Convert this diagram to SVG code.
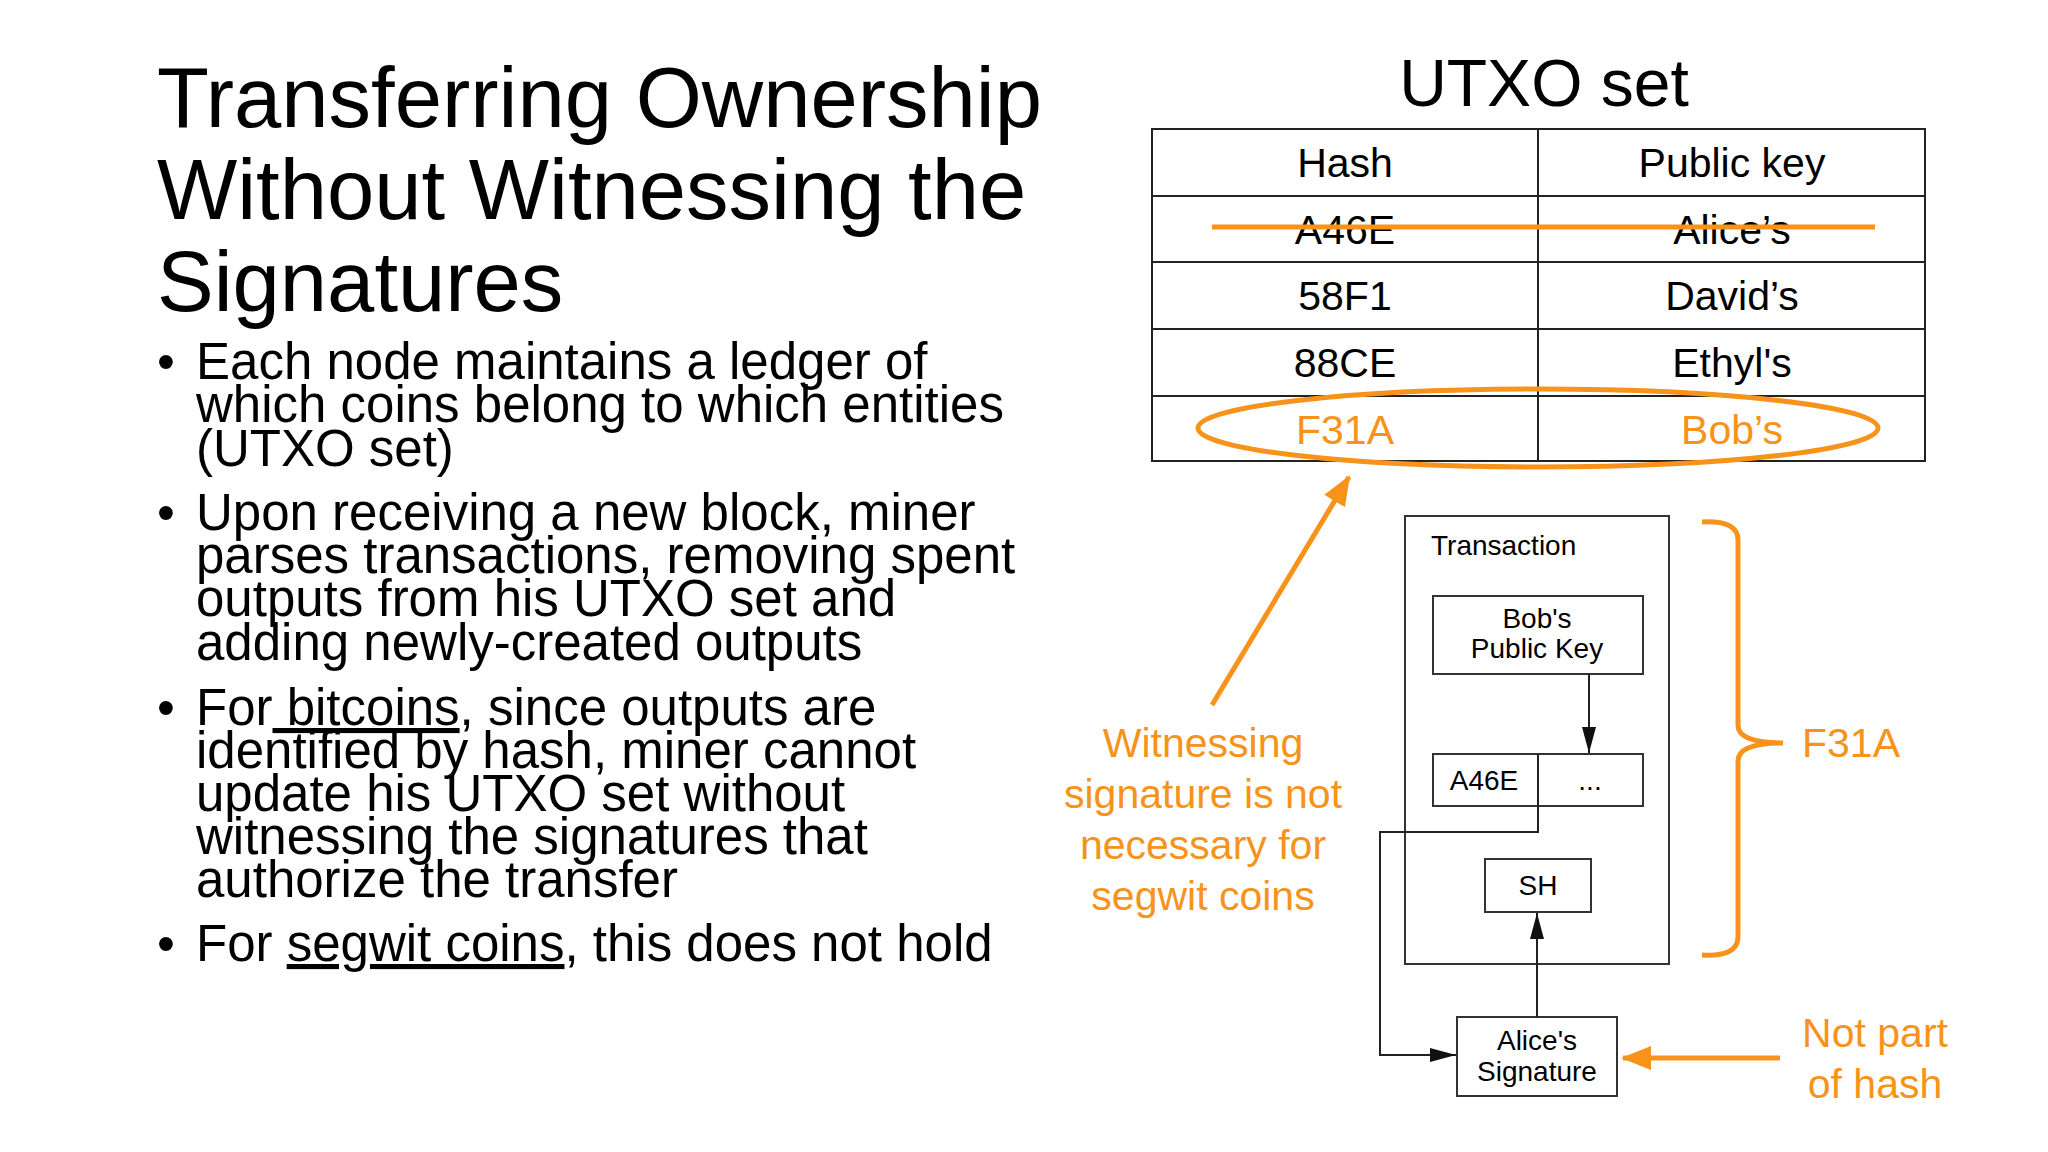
<svg xmlns="http://www.w3.org/2000/svg" width="2048" height="1152" viewBox="0 0 2048 1152">
<defs>
<style>
text{font-family:"Liberation Sans",Arial,sans-serif;fill:#000}
.t{font-size:85px}
.b{font-size:51px}
.c{font-size:41px;text-anchor:middle}
.o{fill:#F7931A}
.d{font-size:28px;text-anchor:middle}
.box{fill:none;stroke:#333;stroke-width:2}
.ln{fill:none;stroke:#222;stroke-width:2}
.or{fill:none;stroke:#F7931A;stroke-width:5}
</style>
<marker id="ak" markerWidth="26" markerHeight="14" refX="26" refY="7" orient="auto" markerUnits="userSpaceOnUse" viewBox="0 0 26 14"><path d="M0,0 L26,7 L0,14 z" fill="#111"/></marker>
<marker id="ao" markerWidth="30" markerHeight="30" refX="28" refY="15" orient="auto" markerUnits="userSpaceOnUse" viewBox="0 0 30 30"><path d="M0,3 L30,15 L0,27 z" fill="#F7931A"/></marker>
</defs>
<rect width="2048" height="1152" fill="#fff"/>
<g id="title">
<text class="t" x="157" y="127">Transferring Ownership</text>
<text class="t" x="157" y="219">Without Witnessing the</text>
<text class="t" x="157" y="311">Signatures</text>
</g>
<g id="bullets" class="b">
<text class="b" x="157" y="379">•</text>
<text class="b" x="196" y="379">Each node maintains a ledger of</text>
<text class="b" x="196" y="422">which coins belong to which entities</text>
<text class="b" x="196" y="466">(UTXO set)</text>
<text class="b" x="157" y="530">•</text>
<text class="b" x="196" y="530">Upon receiving a new block, miner</text>
<text class="b" x="196" y="573">parses transactions, removing spent</text>
<text class="b" x="196" y="616">outputs from his UTXO set and</text>
<text class="b" x="196" y="660">adding newly-created outputs</text>
<text class="b" x="157" y="725">•</text>
<text class="b" x="196" y="725">For<tspan text-decoration="underline"> bitcoins</tspan>, since outputs are</text>
<text class="b" x="196" y="768">identified by hash, miner cannot</text>
<text class="b" x="196" y="811">update his UTXO set without</text>
<text class="b" x="196" y="854">witnessing the signatures that</text>
<text class="b" x="196" y="897">authorize the transfer</text>
<text class="b" x="157" y="961">•</text>
<text class="b" x="196" y="961">For <tspan text-decoration="underline">segwit coins</tspan>, this does not  hold</text>
</g>
<g id="utxo">
<text x="1544" y="106" style="font-size:66px;text-anchor:middle">UTXO set</text>
<rect x="1152" y="129" width="773" height="332" fill="none" stroke="#222" stroke-width="2"/>
<path class="ln" d="M1538,129V461M1152,196H1925M1152,262H1925M1152,329H1925M1152,396H1925"/>
<text class="c" x="1345" y="177">Hash</text><text class="c" x="1732" y="177">Public key</text>
<text class="c" x="1345" y="244">A46E</text><text class="c" x="1732" y="244">Alice’s</text>
<text class="c" x="1345" y="310">58F1</text><text class="c" x="1732" y="310">David’s</text>
<text class="c" x="1345" y="377">88CE</text><text class="c" x="1732" y="377">Ethyl's</text>
<text class="c o" x="1345" y="444">F31A</text><text class="c o" x="1732" y="444">Bob’s</text>
<line class="or" x1="1212" y1="227" x2="1875" y2="227"/>
<ellipse class="or" cx="1538" cy="428" rx="340" ry="39"/>
</g>
<g id="transaction">
<rect class="box" x="1405" y="516" width="264" height="448"/>
<text x="1431" y="555" style="font-size:28px">Transaction</text>
</g>
<g id="bobkey"><rect class="box" x="1433" y="596" width="210" height="78"/>
<text class="d" x="1537" y="628">Bob's</text><text class="d" x="1537" y="658">Public Key</text></g>
<g id="input"><rect class="box" x="1433" y="754" width="210" height="52"/><line class="ln" x1="1538" y1="754" x2="1538" y2="806"/>
<text class="d" x="1484" y="790">A46E</text><text class="d" x="1590" y="790">...</text></g>
<g id="sh"><rect class="box" x="1485" y="859" width="106" height="53"/><text class="d" x="1538" y="895">SH</text></g>
<g id="sig"><rect class="box" x="1457" y="1017" width="160" height="79"/>
<text class="d" x="1537" y="1050">Alice's</text><text class="d" x="1537" y="1081">Signature</text></g>
<g id="connectors">
<path class="ln" d="M1589,674V753" marker-end="url(#ak)"/>
<path class="ln" d="M1537,1017V913" marker-end="url(#ak)"/>
<path class="ln" d="M1538,806V832H1380V1055H1456" marker-end="url(#ak)"/>
<path class="or" d="M1212,705L1349,477" marker-end="url(#ao)"/>
<path class="or" d="M1780,1058H1623" marker-end="url(#ao)"/>
<path class="or" d="M1702,522Q1738,520 1738,540V725Q1738,743 1783,743Q1738,743 1738,761V937Q1738,957 1702,955"/>
</g>
<g id="labels">
<text class="c o" x="1203" y="757">Witnessing</text>
<text class="c o" x="1203" y="808">signature is not</text>
<text class="c o" x="1203" y="859">necessary for</text>
<text class="c o" x="1203" y="910">segwit coins</text>
<text class="o" x="1802" y="757" style="font-size:41px">F31A</text>
<text class="c o" x="1875" y="1047">Not part</text>
<text class="c o" x="1875" y="1098">of hash</text>
</g>
</svg>
